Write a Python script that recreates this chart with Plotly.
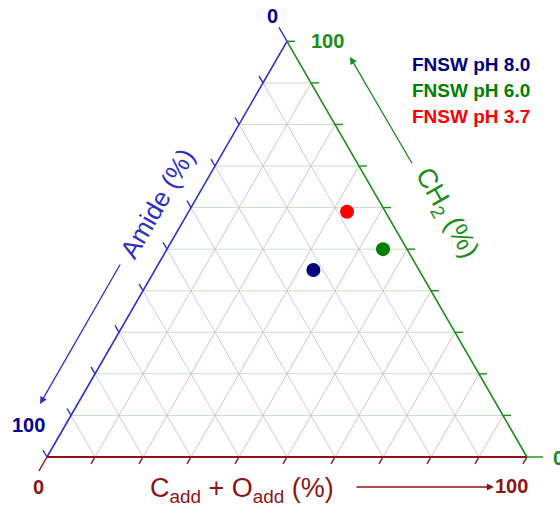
import math
import plotly.graph_objects as go

# ---------------- data ----------------
series_names = ["FNSW pH 8.0", "FNSW pH 6.0", "FNSW pH 3.7"]
ch2 = [45, 50, 59]          # a axis (top vertex)
amide = [22, 5, 8]          # b axis (bottom-left vertex)
cadd_oadd = [33, 45, 33]    # c axis (bottom-right vertex)
series_colors = ["#00007f", "#008000", "#ff0000"]
tick_values = list(range(0, 101, 10))

# ---------------- layout constants ----------------
W, H = 560, 512
X0, BASE_Y, SIDE = 47, 457, 480
R3 = math.sqrt(3) / 2

BLUE = "#2f2fc8"
NAVY = "#00009a"
GREEN = "#1a8c1a"
DKRED = "#8e1414"
GRID_A = "#c4e3c4"
GRID_B = "#c8c8ee"
GRID_C = "#e4c6c6"
FONT = "Liberation Sans, Arial, sans-serif"


def tern_xy(a, b, c):
    s = a + b + c
    return c / s + 0.5 * a / s, R3 * a / s


def paper(px, py):
    return px / W, 1 - py / H


def tick_trace(points, direction, color, lengths):
    xs, ys = [], []
    for (x, y), L in zip(points, lengths):
        xs += [x, x + direction[0] * L / SIDE, None]
        ys += [y, y + direction[1] * L / SIDE, None]
    return go.Scatter(x=xs, y=ys, mode="lines", line=dict(color=color, width=1.4),
                      hoverinfo="skip", showlegend=False)


lengths = [16 if t == 0 else 8 for t in tick_values]

fig = go.Figure()

# ticks (drawn on an invisible cartesian frame aligned with the ternary)
fig.add_trace(tick_trace([tern_xy(100 - t, t, 0) for t in tick_values], (-0.5, R3), BLUE, lengths))
fig.add_trace(tick_trace([tern_xy(0, 100 - t, t) for t in tick_values], (-0.5, -R3), DKRED, lengths))
fig.add_trace(tick_trace([tern_xy(t, 0, 100 - t) for t in tick_values], (1.0, 0.0), GREEN, lengths))

# data points
for name, a, b, c, col in zip(series_names, ch2, amide, cadd_oadd, series_colors):
    fig.add_trace(go.Scatterternary(a=[a], b=[b], c=[c], mode="markers", name=name,
                                    marker=dict(size=14, color=col), showlegend=False))

axis_common = dict(tickmode="linear", tick0=0, dtick=10, ticks="", showticklabels=False,
                   showgrid=True, gridwidth=1, min=0, title=dict(text=""))

fig.update_layout(
    width=W, height=H,
    margin=dict(l=0, r=0, t=0, b=0),
    paper_bgcolor="white", plot_bgcolor="white",
    showlegend=False,
    xaxis=dict(visible=False, range=[-X0 / SIDE, (W - X0) / SIDE], fixedrange=True),
    yaxis=dict(visible=False, range=[-(H - BASE_Y) / SIDE, BASE_Y / SIDE], fixedrange=True),
    ternary=dict(
        sum=100,
        bgcolor="white",
        domain=dict(x=[X0 / W, (X0 + SIDE) / W],
                    y=[(H - BASE_Y) / H, (H - BASE_Y + SIDE * R3) / H]),
        aaxis=dict(**axis_common, gridcolor=GRID_A, linecolor=BLUE, linewidth=1.6),
        baxis=dict(**axis_common, gridcolor=GRID_B, linecolor=DKRED, linewidth=2),
        caxis=dict(**axis_common, gridcolor=GRID_C, linecolor=GREEN, linewidth=1.6),
    ),
)

ann = []


def label(px, py, text, color, size, bold=True, angle=0, xanchor="center"):
    x, y = paper(px, py)
    t = f"<b>{text}</b>" if bold else text
    ann.append(dict(x=x, y=y, xref="paper", yref="paper", text=t, showarrow=False,
                    font=dict(family=FONT, size=size, color=color), textangle=angle,
                    xanchor=xanchor, yanchor="middle"))


def arrow(tip, tail, color):
    x, y = paper(*tip)
    ann.append(dict(x=x, y=y, xref="paper", yref="paper", text="", showarrow=True,
                    ax=tail[0] - tip[0], ay=tail[1] - tip[1], arrowhead=2, arrowsize=1.1,
                    arrowwidth=1.3, arrowcolor=color, standoff=0, startstandoff=0))


# corner values
label(272, 16, "0", NAVY, 20)
label(327, 41, "100", GREEN, 20)
label(28, 425, "100", NAVY, 20)
label(558, 458, "0", GREEN, 20)
label(38, 487, "0", DKRED, 20)
label(511, 486, "100", DKRED, 20)

# axis titles
label(157, 204, "Amide (%)", BLUE, 26, bold=False, angle=-60)
label(446, 214, "CH<sub>2</sub> (%)", GREEN, 27, bold=False, angle=60)
label(242, 490, "C<sub>add</sub> + O<sub>add</sub> (%)", DKRED, 27, bold=False)

# arrows
arrow((40, 404), (121, 263), BLUE)
arrow((350, 57), (413, 165), GREEN)
arrow((494, 487), (355, 487), DKRED)

# legend-like labels
for i, (name, col) in enumerate(zip(series_names, series_colors)):
    label(410, 64 + 26 * i, name, col, 19, xanchor="left")

fig.update_layout(annotations=ann)
fig.write_html("out.html", config={"displayModeBar": False},
               post_script="document.body.style.margin='0';document.body.style.overflow='hidden';")
